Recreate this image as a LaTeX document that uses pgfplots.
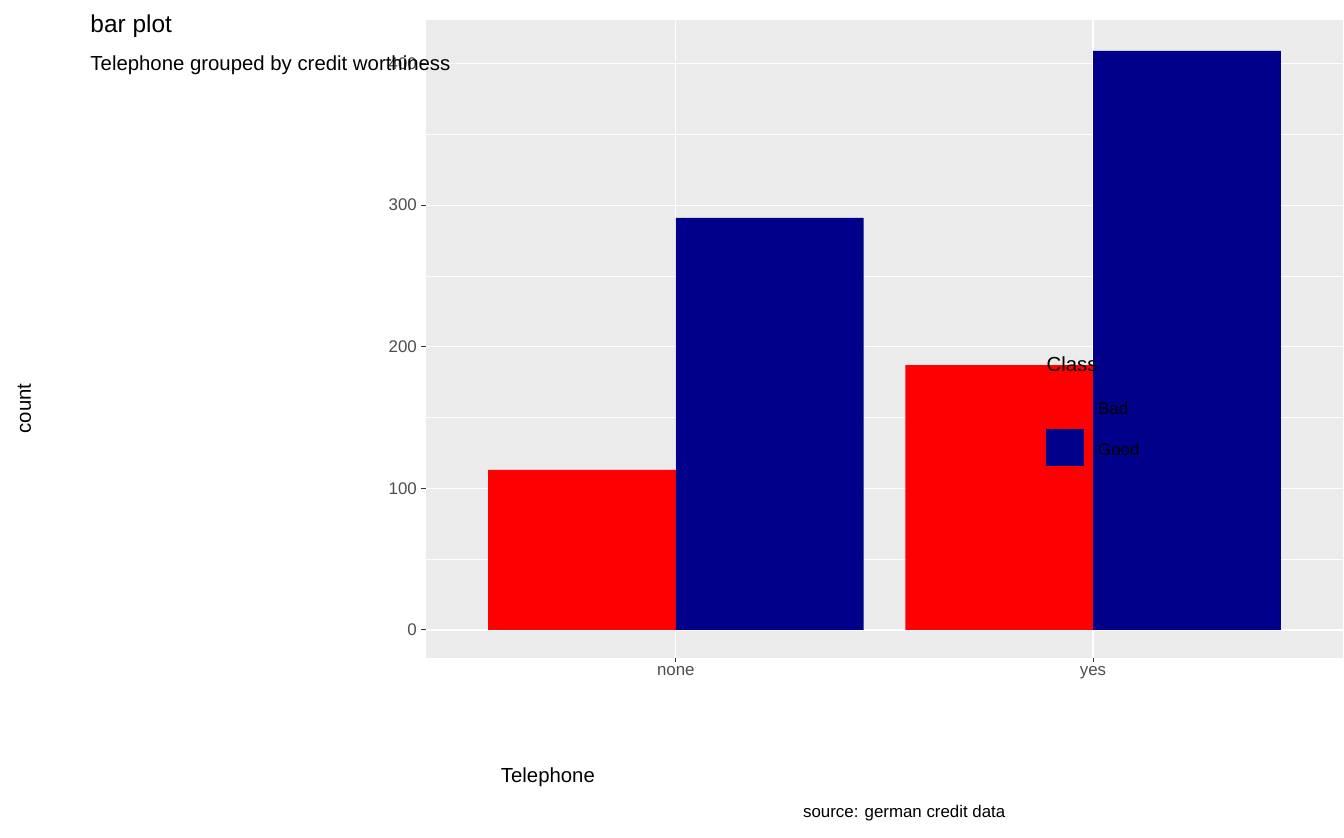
\documentclass[border=0pt]{standalone}
\usepackage{pgfplots}
\pgfplotsset{compat=1.18}
\usepackage{fontspec}
\setmainfont{Liberation Sans}
\definecolor{panel}{HTML}{EBEBEB}
\definecolor{ticktext}{HTML}{4D4D4D}
\definecolor{tickcol}{HTML}{333333}
\definecolor{goodc}{HTML}{00008B}
\begin{document}
\begin{tikzpicture}[x=0.75pt,y=0.75pt]
\path (0,0) rectangle (1344,960);
\begin{axis}[at={(102,127)},anchor=south west,scale only axis,
 width=789pt,height=548.25pt,
 xmin=-0.6,xmax=1.6,ymin=-19.7,ymax=430.8,
 axis background/.style={fill=panel},axis line style={draw=none},
 xtick={0,1},xticklabels={none,yes},ytick={0,100,200,300,400},
 minor ytick={50,150,250,350},
 grid=both,major grid style={white,line width=1.1pt},minor grid style={white,line width=0.55pt},
 tick style={tickcol,line width=0.8pt},major tick length=4pt,tick align=outside,
 xtick pos=bottom,ytick pos=left,minor tick length=0pt,
 /pgf/number format/assume math mode=true,
 tick label style={font=\fontsize{14.5}{16}\selectfont,text=ticktext},
 ybar,bar width=0.45,
 ]
\addplot[fill=red,draw=none,bar shift=-0.225] coordinates {(0,113) (1,187)};
\addplot[fill=goodc,draw=none,bar shift=0.225] coordinates {(0,291) (1,409)};
\end{axis}
\node[anchor=west,font=\fontsize{21}{24}\selectfont] at (99,930) {bar plot};
\node[anchor=west,font=\fontsize{17.5}{20}\selectfont] at (99,885) {Telephone grouped by credit worthiness};
\node[font=\fontsize{17.5}{20}\selectfont] at (628,69) {Telephone};
\node[rotate=90,font=\fontsize{17.5}{20}\selectfont] at (28,492) {count};
\node[anchor=east,font=\fontsize{14.5}{16}\selectfont] at (1157,28) {source: german credit data};
\node[anchor=west,font=\fontsize{17.5}{20}\selectfont] at (1195,543) {Class};
\fill[red] (1199,472) rectangle (1242,514);
\fill[goodc] (1199,426) rectangle (1242,468);
\node[anchor=west,font=\fontsize{14.5}{16}\selectfont] at (1254,492) {Bad};
\node[anchor=west,font=\fontsize{14.5}{16}\selectfont] at (1254,445) {Good};
\end{tikzpicture}
\end{document}
